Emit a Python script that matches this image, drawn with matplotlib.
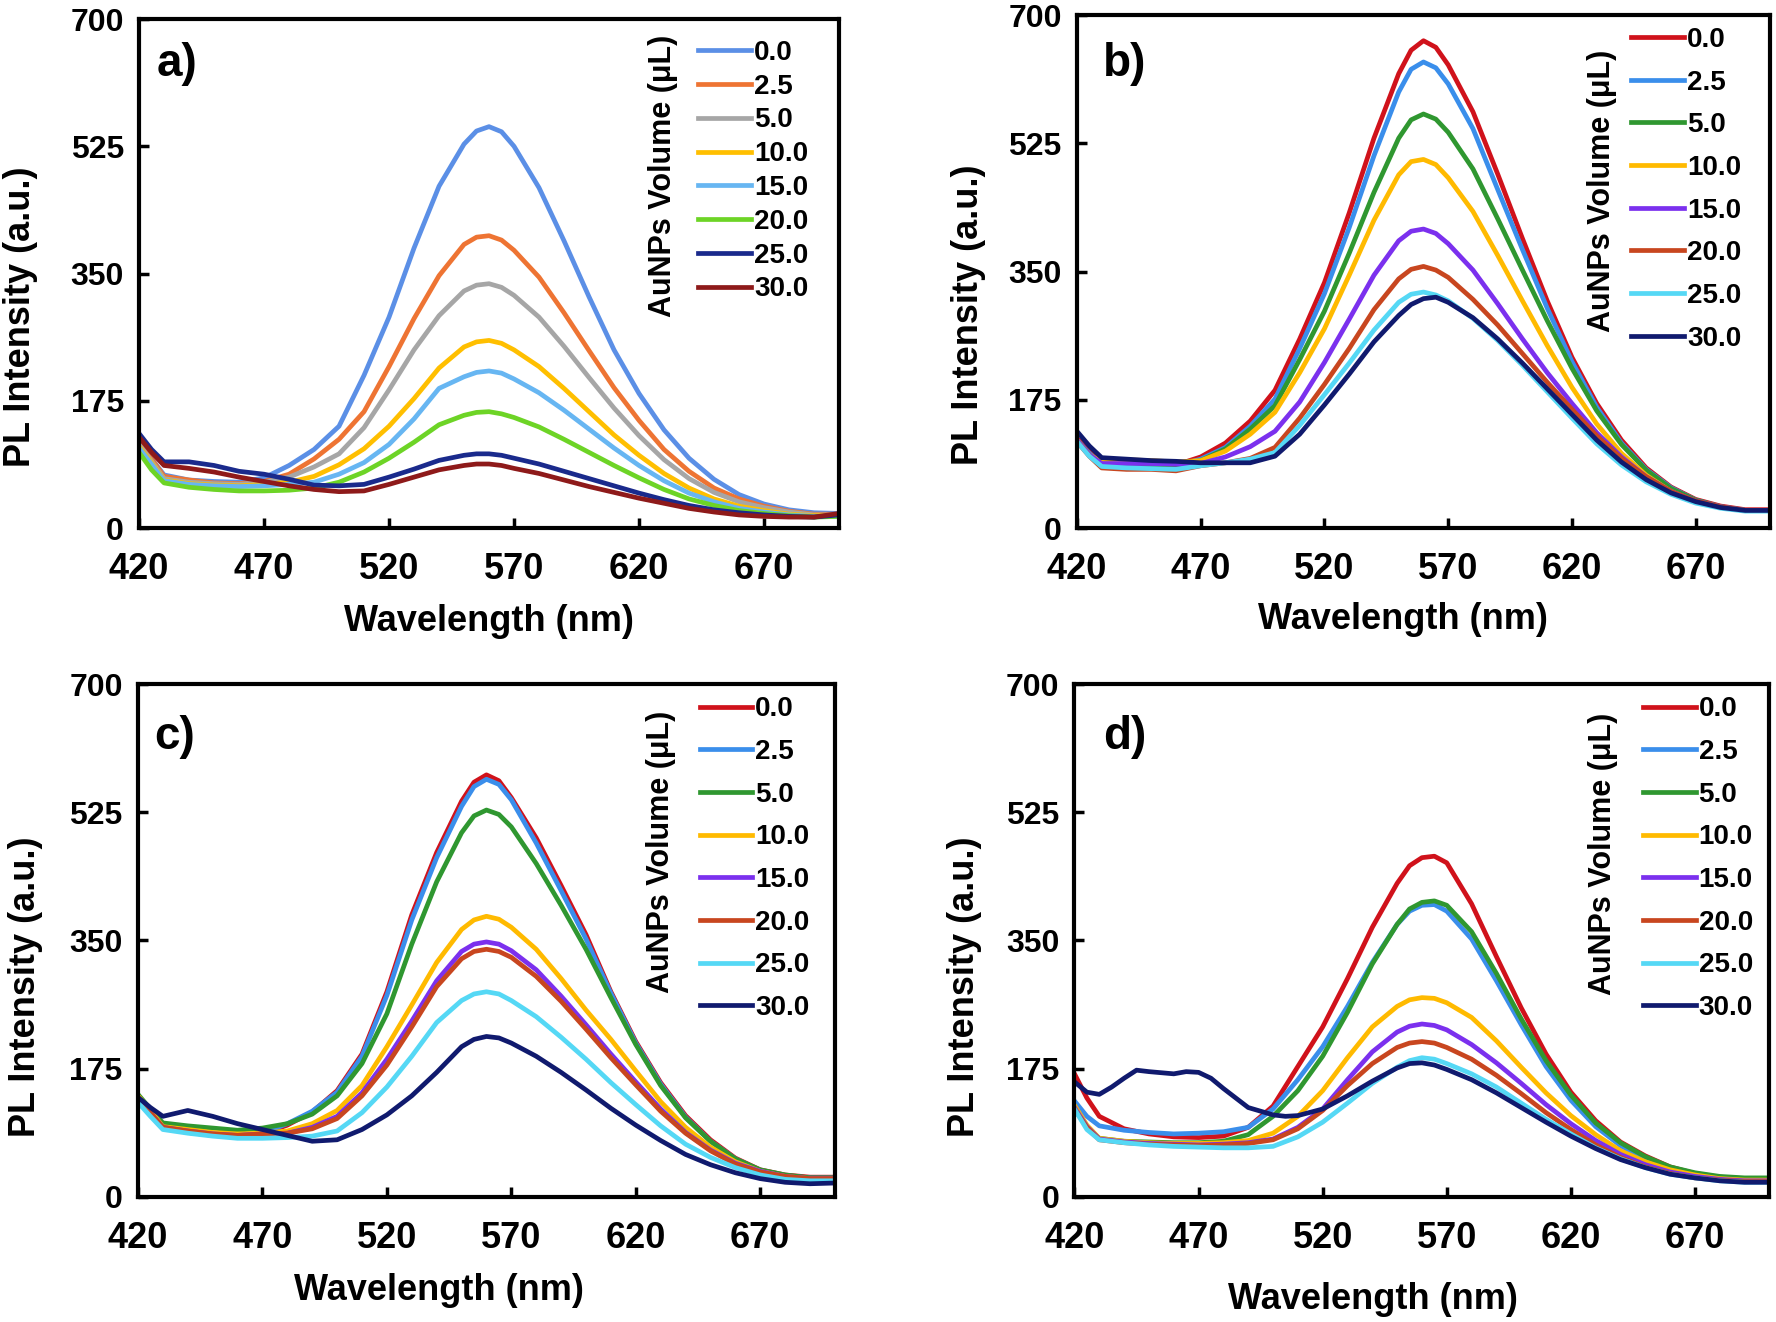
import matplotlib
matplotlib.use('Agg')
import matplotlib.pyplot as plt

# wavelength grid (nm) used for the read-off spectra
WL = [420, 425, 430, 440, 450, 460, 470, 480, 490, 500, 510, 520, 530, 540, 550, 555,
      560, 565, 570, 580, 590, 600, 610, 620, 630, 640, 650, 660, 670, 680, 690, 700]
# panel d, 30 uL curve has extra wiggles -> its own grid
WL_D30 = [420, 425, 430, 435, 440, 445, 450, 460, 465, 470, 475, 480, 490, 500, 505, 510,
          520, 530, 540, 550, 555, 560, 565, 570, 580, 590, 600, 610, 620, 630, 640, 650,
          660, 670, 680, 690, 700]

VOLUMES = ['0.0', '2.5', '5.0', '10.0', '15.0', '20.0', '25.0', '30.0']
XTICKS = [420, 470, 520, 570, 620, 670]
YTICKS = [0, 175, 350, 525, 700]

# PL intensity (a.u.), one list per AuNPs volume
a_vals = [
    [118, 95, 73, 66, 64, 63, 69, 86, 108, 140, 210, 290, 385, 470, 528, 546, 552, 545, 525, 468, 395, 318, 245, 185, 135, 96, 67, 46, 33, 25, 21, 20],
    [121, 95, 71, 66, 62, 61, 64, 74, 95, 122, 160, 222, 288, 347, 390, 400, 402, 396, 382, 345, 296, 244, 193, 148, 108, 78, 55, 40, 30, 23, 19, 19],
    [115, 92, 68, 63, 61, 60, 63, 70, 84, 102, 138, 190, 245, 292, 326, 334, 336, 331, 320, 290, 250, 207, 165, 127, 94, 68, 49, 36, 28, 22, 18, 18],
    [112, 90, 66, 61, 59, 58, 60, 63, 71, 87, 109, 140, 178, 220, 249, 256, 258, 254, 245, 222, 192, 160, 128, 100, 75, 55, 40, 30, 24, 19, 17, 17],
    [110, 88, 65, 60, 58, 57, 58, 60, 63, 74, 90, 115, 150, 192, 208, 214, 216, 213, 205, 186, 162, 136, 110, 86, 65, 48, 36, 27, 22, 18, 16, 16],
    [104, 80, 62, 56, 53, 51, 51, 52, 55, 63, 77, 96, 118, 142, 155, 159, 160, 157, 152, 139, 122, 104, 86, 69, 53, 40, 31, 24, 20, 17, 15, 16],
    [130, 108, 91, 91, 86, 78, 74, 67, 59, 58, 60, 70, 81, 93, 100, 102, 102, 100, 96, 88, 78, 68, 58, 48, 39, 31, 25, 21, 18, 16, 15, 18],
    [125, 104, 86, 82, 77, 70, 64, 58, 53, 50, 51, 60, 70, 80, 86, 88, 88, 86, 82, 75, 66, 57, 49, 41, 34, 27, 22, 18, 16, 15, 15, 20],
]
b_vals = [
    [122, 105, 90, 88, 87, 86, 97, 116, 146, 188, 258, 335, 430, 532, 620, 652, 665, 656, 632, 568, 483, 395, 310, 233, 170, 120, 82, 56, 39, 30, 25, 25],
    [120, 102, 87, 87, 86, 85, 94, 110, 139, 176, 245, 320, 410, 508, 595, 626, 636, 628, 606, 545, 462, 380, 300, 227, 165, 116, 80, 55, 38, 29, 24, 24],
    [120, 100, 86, 87, 87, 86, 92, 108, 135, 167, 230, 296, 375, 458, 532, 557, 565, 558, 540, 490, 422, 352, 283, 218, 160, 114, 79, 54, 38, 29, 24, 24],
    [120, 100, 90, 93, 92, 90, 92, 105, 128, 158, 212, 272, 345, 420, 482, 500, 503, 496, 478, 432, 372, 310, 249, 192, 142, 102, 72, 50, 36, 28, 24, 24],
    [120, 100, 88, 88, 88, 87, 88, 97, 111, 132, 172, 226, 285, 345, 392, 405, 408, 402, 388, 352, 306, 258, 212, 170, 130, 97, 70, 50, 37, 29, 24, 24],
    [118, 98, 82, 80, 80, 78, 85, 89, 95, 110, 150, 196, 245, 298, 340, 353, 357, 352, 342, 312, 277, 238, 199, 162, 126, 95, 70, 50, 37, 29, 24, 24],
    [118, 98, 84, 82, 81, 80, 85, 89, 94, 103, 140, 182, 225, 270, 308, 319, 322, 318, 310, 286, 256, 222, 186, 150, 115, 86, 63, 46, 34, 27, 23, 23],
    [132, 112, 96, 94, 92, 91, 89, 89, 89, 98, 128, 168, 210, 254, 290, 305, 313, 315, 308, 287, 258, 225, 190, 155, 120, 90, 66, 48, 36, 28, 24, 24],
]
c_vals = [
    [135, 118, 98, 88, 85, 82, 86, 98, 116, 145, 195, 280, 385, 470, 540, 566, 576, 568, 545, 490, 425, 358, 280, 212, 156, 111, 78, 53, 37, 30, 27, 27],
    [132, 115, 95, 88, 84, 82, 87, 100, 117, 143, 192, 275, 378, 463, 533, 560, 570, 563, 542, 483, 418, 352, 278, 210, 154, 109, 76, 52, 36, 29, 26, 26],
    [140, 120, 101, 97, 94, 91, 94, 100, 113, 138, 182, 250, 345, 430, 497, 520, 528, 522, 505, 455, 398, 338, 272, 208, 152, 108, 76, 52, 37, 30, 26, 26],
    [138, 118, 96, 92, 88, 86, 87, 90, 100, 118, 152, 205, 262, 320, 365, 378, 383, 379, 368, 338, 298, 255, 215, 172, 130, 95, 68, 48, 35, 28, 25, 25],
    [135, 115, 95, 90, 86, 84, 86, 87, 95, 110, 142, 188, 240, 295, 335, 345, 348, 345, 336, 310, 274, 235, 195, 157, 120, 88, 64, 46, 35, 28, 25, 25],
    [135, 115, 95, 90, 86, 84, 86, 87, 93, 107, 138, 180, 232, 287, 325, 335, 338, 335, 327, 301, 267, 229, 190, 153, 117, 87, 63, 45, 34, 28, 25, 25],
    [129, 110, 92, 87, 83, 80, 80, 81, 83, 90, 115, 150, 192, 238, 268, 277, 280, 277, 268, 246, 218, 188, 156, 126, 97, 72, 54, 40, 30, 24, 22, 22],
    [136, 122, 110, 118, 110, 100, 92, 84, 76, 78, 92, 112, 138, 170, 205, 215, 219, 217, 210, 192, 170, 146, 121, 98, 77, 58, 44, 33, 25, 20, 18, 19],
]
d_vals = [
    [168, 135, 110, 93, 86, 82, 81, 83, 95, 124, 178, 232, 298, 368, 428, 452, 463, 465, 456, 400, 328, 258, 195, 143, 104, 75, 56, 41, 32, 27, 25, 25],
    [131, 110, 97, 91, 88, 86, 87, 89, 95, 120, 160, 205, 260, 320, 372, 390, 398, 399, 390, 352, 295, 235, 178, 132, 96, 70, 52, 39, 31, 26, 24, 24],
    [122, 95, 80, 76, 75, 74, 74, 76, 85, 110, 145, 192, 252, 318, 372, 393, 402, 404, 398, 362, 305, 243, 186, 139, 101, 74, 55, 41, 33, 28, 26, 26],
    [125, 98, 80, 76, 74, 73, 73, 74, 77, 87, 110, 145, 190, 232, 260, 269, 272, 271, 265, 245, 213, 177, 142, 111, 85, 63, 48, 37, 30, 25, 23, 23],
    [122, 96, 79, 75, 73, 72, 71, 72, 74, 79, 95, 120, 160, 198, 225, 233, 236, 234, 228, 208, 183, 155, 126, 100, 77, 58, 44, 34, 28, 24, 22, 22],
    [120, 95, 78, 74, 72, 71, 70, 71, 73, 78, 93, 118, 152, 182, 204, 210, 212, 210, 204, 188, 166, 141, 115, 92, 71, 54, 41, 32, 26, 23, 21, 21],
    [120, 92, 78, 74, 71, 69, 68, 67, 67, 69, 82, 102, 128, 155, 177, 186, 190, 188, 182, 168, 150, 128, 106, 86, 67, 52, 40, 31, 26, 22, 20, 20],
]
d_30 = [157, 143, 140, 150, 162, 173, 171, 168, 171, 170, 162, 148, 122, 112, 110, 111,
        120, 138, 158, 176, 182, 183, 180, 174, 160, 142, 122, 102, 83, 66, 51, 40,
        31, 26, 22, 20, 20]

A_COLORS = ['#5B8FE6', '#EE7433', '#A6A6A6', '#FFBF00', '#67B6F2', '#6DD426', '#1A2A8C', '#8E1A1A']
BCD_COLORS = ['#D0121B', '#3A8EEB', '#2F9730', '#FFBA00', '#7B30EE', '#C8461F', '#55D8F5', '#101A6E']

plt.rcParams['font.family'] = ['Liberation Sans', 'DejaVu Sans']
plt.rcParams['font.weight'] = 'bold'
plt.rcParams['axes.labelweight'] = 'bold'

fig = plt.figure(figsize=(17.76, 13.22), dpi=100)


def draw_panel(rect, curves, colors, letter, leg_xy, leg_space, title_xy, letter_xy, ylab_xy, xlab_xy):
    ax = fig.add_axes(rect)
    for (wl, vals), col, lab in zip(curves, colors, VOLUMES):
        ax.plot(wl, vals, color=col, lw=3.4, label=lab)
    ax.set_xlim(420, 700)
    ax.set_ylim(0, 700)
    ax.set_xticks(XTICKS)
    ax.set_yticks(YTICKS)
    ax.tick_params(direction='in', length=7, width=2.5)
    ax.tick_params(axis='x', labelsize=26, pad=17)
    ax.tick_params(axis='y', labelsize=23, pad=11)
    for sp in ax.spines.values():
        sp.set_linewidth(3)
    ax.set_xlabel('Wavelength (nm)', fontsize=26, fontweight='bold', va='center')
    ax.set_ylabel('PL Intensity (a.u.)', fontsize=26, fontweight='bold', va='center')
    ax.xaxis.set_label_coords(*xlab_xy)
    ax.yaxis.set_label_coords(*ylab_xy)
    ax.text(letter_xy[0], letter_xy[1], letter, transform=ax.transAxes,
            fontsize=33, va='top', ha='left')
    ax.text(title_xy[0], title_xy[1], 'AuNPs Volume (μL)', transform=ax.transAxes,
            rotation=90, fontsize=22, fontweight='bold', ha='center', va='center')
    ax.legend(loc='upper left', bbox_to_anchor=leg_xy, frameon=False, fontsize=20,
              handlelength=1.9, handletextpad=0.1, labelspacing=leg_space,
              borderpad=0, borderaxespad=0)
    return ax


curves_a = [(WL, v) for v in a_vals]
curves_b = [(WL, v) for v in b_vals]
curves_c = [(WL, v) for v in c_vals]
curves_d = [(WL, v) for v in d_vals] + [(WL_D30, d_30)]

draw_panel([0.0783, 0.6006, 0.3941, 0.385], curves_a, A_COLORS, 'a)',
           (0.799, 0.959), 0.28, (0.749, 0.6925), (0.025, 0.955), (-0.17, 0.415), (0.50, -0.183))
draw_panel([0.6064, 0.6006, 0.3902, 0.388], curves_b, BCD_COLORS, 'b)',
           (0.800, 0.977), 0.6, (0.757, 0.657), (0.037, 0.947), (-0.157, 0.415), (0.47, -0.178))
draw_panel([0.0777, 0.0946, 0.3924, 0.388], curves_c, BCD_COLORS, 'c)',
           (0.806, 0.976), 0.6, (0.751, 0.673), (0.024, 0.94), (-0.161, 0.41), (0.432, -0.183))
draw_panel([0.605, 0.0946, 0.3913, 0.388], curves_d, BCD_COLORS, 'd)',
           (0.818, 0.976), 0.6, (0.760, 0.668), (0.041, 0.94), (-0.158, 0.41), (0.43, -0.199))

fig.savefig('out.png', dpi=100)
